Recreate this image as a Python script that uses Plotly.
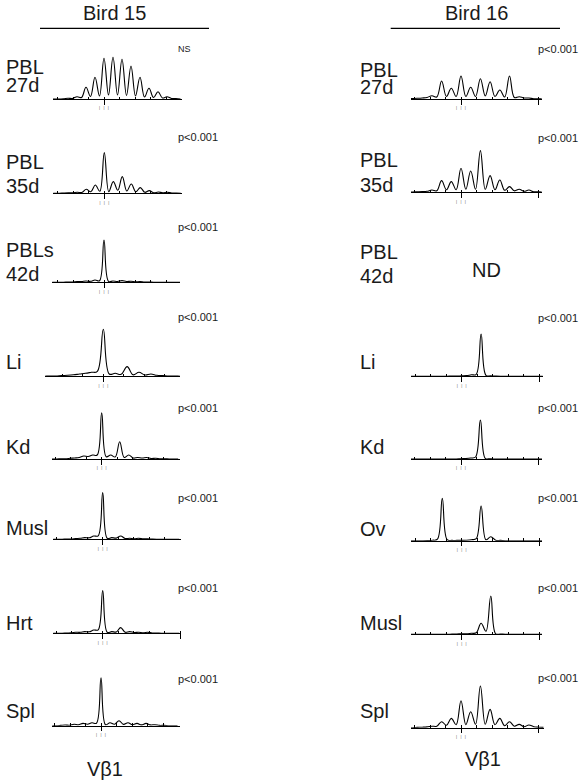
import plotly.graph_objects as go

W, H = 581, 784
FONT = "Liberation Sans, Arial, Helvetica, sans-serif"

# CDR3-length slots (peak positions); valleys sit half a slot to the right of each peak
SLOTS = list(range(-6, 9))

# ---- Bird 15 : peak heights (at SLOTS) and valley heights (at SLOTS + 0.5)
b15_pbl27_pk = [0, 0, 0.8, 2.3, 11.7, 21.7, 40.7, 41.7, 39.7, 33, 21.7, 10.7, 7.3, 2.3, 0.5]
b15_pbl27_vl = [0, 0.3, 0.5, 1.5, 2.5, 3, 4, 4, 3.5, 3, 2, 1.5, 1, 0.5, 0]
b15_pbl35_pk = [0, 0, 0.5, 1, 4, 8.3, 40.7, 11.7, 16.7, 9.3, 5.7, 2.7, 1.3, 1, 0.3]
b15_pbl35_vl = [0, 0.3, 0.5, 0.8, 1.5, 2, 1.7, 3, 2.3, 1.5, 1, 0.5, 0.5, 0.3, 0]
b15_pbl42_pk = [0, 0, 0.3, 0.7, 1.3, 2.3, 42.3, 1.3, 1.7, 1.0, 0.7, 0.3, 0, 0, 0]
b15_pbl42_vl = [0, 0, 0.3, 0.7, 1, 1.5, 1, 0.8, 0.8, 0.5, 0.3, 0, 0, 0, 0]
b15_li_pk = [0, 0, 0.3, 1, 2.3, 4, 47, 3, 9.7, 4, 2.3, 0.7, 0.3, 0, 0]
b15_li_vl = [0, 0.3, 0.7, 1.5, 3, 5, 2.3, 2, 1.5, 1.3, 1, 0.3, 0, 0, 0]
b15_kd_pk = [0, 0, 0.3, 1, 3, 4, 46.3, 4, 17.3, 4, 1.5, 1.5, 0.7, 0.3, 0]
b15_kd_vl = [0, 0.3, 0.7, 1.5, 2.5, 4, 2.3, 2, 1.5, 1, 1, 0.5, 0.3, 0, 0]
b15_musl_pk = [0, 0, 0.3, 0.7, 1.7, 3.3, 46.7, 1.7, 3.3, 1, 1, 0.5, 0, 0, 0]
b15_musl_vl = [0, 0, 0.3, 1, 1.5, 3.5, 1, 1.2, 0.8, 0.6, 0.4, 0.2, 0, 0, 0]
b15_hrt_pk = [0, 0, 0.3, 1, 1.7, 3.3, 42.7, 1.7, 5.7, 1.7, 1, 1, 0.3, 0, 0]
b15_hrt_vl = [0, 0, 0.5, 1, 1.5, 3.5, 1, 1.3, 1, 0.8, 0.5, 0.3, 0, 0, 0]
b15_spl_pk = [0, 0, 0.7, 1.5, 2.3, 3, 48, 3, 5, 3, 2.3, 2.3, 1, 0.3, 0]
b15_spl_vl = [0, 0.3, 0.5, 1, 1.5, 2.5, 1, 1.5, 1.3, 1, 0.8, 0.8, 0.3, 0, 0]

# ---- Bird 16
b16_pbl27_pk = [0, 0.5, 1, 3.3, 18, 10.7, 23, 11.7, 20.3, 17.3, 9, 23, 2.3, 1, 0.3]
b16_pbl27_vl = [0.3, 0.7, 1.5, 2, 2.5, 2.5, 2.5, 2.5, 3, 2.5, 2, 1.5, 1, 0.3, 0]
b16_pbl35_pk = [0, 0.3, 0.7, 2.3, 11.7, 10.7, 24, 21.3, 41.7, 16.7, 12.3, 5.7, 3, 2.3, 0.5]
b16_pbl35_vl = [0, 0.5, 1, 1.5, 2.5, 2.5, 3, 3, 3, 2.5, 2, 1.5, 1, 0.5, 0]
b16_li_pk = [0, 0, 0, 0, 0, 0.3, 0.5, 1.5, 42.3, 0.5, 0, 0, 0, 0, 0]
b16_li_vl = [0, 0, 0, 0, 0, 0.2, 0.7, 2, 1, 0.2, 0, 0, 0, 0, 0]
b16_kd_pk = [0, 0, 0, 0, 0, 0, 0.3, 1, 39, 0.3, 0, 0, 0, 0, 0]
b16_kd_vl = [0, 0, 0, 0, 0, 0, 0.5, 2, 0.7, 0, 0, 0, 0, 0, 0]
b16_ov_pk = [0, 0, 0, 0.5, 42.3, 0.3, 0.3, 1, 34.7, 4, 0.3, 0, 0, 0, 0]
b16_ov_vl = [0, 0, 0.2, 1.5, 1, 0.3, 0.5, 2, 1, 0.5, 0, 0, 0, 0, 0]
b16_musl_pk = [0, 0, 0, 0, 0, 0.2, 0.5, 1, 11, 38.3, 0.3, 0, 0, 0, 0]
b16_musl_vl = [0, 0, 0, 0, 0, 0.3, 0.5, 1.5, 3, 0.5, 0, 0, 0, 0, 0]
b16_spl_pk = [0, 0, 0.5, 1.5, 6, 9.3, 27, 16, 41.7, 18.3, 9.3, 6, 3.3, 2.7, 0.5]
b16_spl_vl = [0, 0.3, 0.8, 1.5, 2.5, 3, 3, 3.5, 3.5, 3, 2, 1.5, 1, 1, 0.3]

# labels
tissue_b15 = [["PBL", "27d"], ["PBL", "35d"], ["PBLs", "42d"], ["Li"], ["Kd"], ["Musl"], ["Hrt"], ["Spl"]]
pval_b15 = ["NS", "p<0.001", "p<0.001", "p<0.001", "p<0.001", "p<0.001", "p<0.001", "p<0.001"]
tissue_b16 = [["PBL", "27d"], ["PBL", "35d"], ["PBL", "42d"], ["Li"], ["Kd"], ["Ov"], ["Musl"], ["Spl"]]
pval_b16 = ["p<0.001"] * 7

# ---------------- layout (pixel geometry) ----------------
STY = {
    "L": dict(slot=9.0, tick=15.5, ks=[-3, -2, -1, 1, 2, 3, 4]),
    "Li": dict(slot=11.9, tick=20.4, ks=[-2, -1, 1, 2, 3]),
    "R": dict(slot=9.7, tick=15.5, ks=[-3, -2, -1, 1, 2, 3, 4]),
}
# (pk, vl, baseline_y, x_left, x_right, x_major, style, end_cross)
panels = [
    (b15_pbl27_pk, b15_pbl27_vl, 99, 53, 182, 104, "L", False),
    (b15_pbl35_pk, b15_pbl35_vl, 193.3, 53.3, 181.7, 104.3, "L", False),
    (b15_pbl42_pk, b15_pbl42_vl, 282.3, 52.3, 180, 104, "L", False),
    (b15_li_pk, b15_li_vl, 376.3, 45, 180, 103.3, "Li", False),
    (b15_kd_pk, b15_kd_vl, 459, 52, 180, 101.7, "L", False),
    (b15_musl_pk, b15_musl_vl, 539.3, 53.3, 181, 102.7, "L", False),
    (b15_hrt_pk, b15_hrt_vl, 633.3, 53.3, 181, 102.7, "L", True),
    (b15_spl_pk, b15_spl_vl, 725.7, 52.3, 180, 101, "L", False),
    (b16_pbl27_pk, b16_pbl27_vl, 99, 411, 541.7, 461, "R", True),
    (b16_pbl35_pk, b16_pbl35_vl, 192.3, 411, 541.7, 461, "R", True),
    (b16_li_pk, b16_li_vl, 376.3, 411, 542.7, 461.7, "R", True),
    (b16_kd_pk, b16_kd_vl, 459, 411, 542, 461, "R", True),
    (b16_ov_pk, b16_ov_vl, 540.7, 411, 542, 461.7, "R", True),
    (b16_musl_pk, b16_musl_vl, 634.3, 411, 542, 461.7, "R", True),
    (b16_spl_pk, b16_spl_vl, 727.7, 411, 544, 461, "R", True),
]
PH = 52  # panel height in px (y units = px)

fig = go.Figure()
lay = {}
for i, (pk, vl, base, xl, xr, xm, st, cross) in enumerate(panels, start=1):
    s = STY[st]
    xs, ys = [], []
    for sl, p, v in zip(SLOTS, pk, vl):
        xs += [sl, sl + 0.5]
        ys += [p, v]
    sfx = "" if i == 1 else str(i)
    fig.add_trace(go.Scatter(x=xs, y=ys, mode="lines",
                             line=dict(color="black", width=1.1, shape="spline", smoothing=1.1),
                             xaxis="x" + sfx, yaxis="y" + sfx, hoverinfo="skip", showlegend=False))
    tstep = s["tick"] / s["slot"]
    major = [0.0]
    ttext = ["|   |   |"]
    minor = [k * tstep for k in s["ks"]] + [0.001]
    if cross:
        major.append(5 * tstep)
        ttext.append("")
        minor.append(5 * tstep + 0.001)
    lay["xaxis" + sfx] = dict(
        domain=[xl / W, xr / W], range=[(xl - xm) / s["slot"], (xr - xm) / s["slot"]],
        anchor="y" + sfx, showline=True, linecolor="black", linewidth=1, showgrid=False, zeroline=False,
        tickmode="array", tickvals=major, ticktext=ttext, ticks="outside", ticklen=4.5, tickwidth=1,
        tickcolor="black", tickfont=dict(size=4, color="#555", family=FONT), tickangle=0,
        minor=dict(tickmode="array", tickvals=minor, ticks="inside", ticklen=2.5, tickwidth=1,
                   tickcolor="black", showgrid=False),
        fixedrange=True,
    )
    lay["yaxis" + sfx] = dict(
        domain=[1 - base / H, 1 - (base - PH) / H], range=[0, PH], anchor="x" + sfx,
        showline=False, showgrid=False, zeroline=False, showticklabels=False, ticks="", fixedrange=True,
    )

ann = []


def txt(x, y, t, size, xanchor="left"):
    ann.append(dict(x=x / W, y=1 - y / H, xref="paper", yref="paper", text=t, showarrow=False,
                    xanchor=xanchor, yanchor="middle", font=dict(size=size, color="#1a1a1a", family=FONT)))


# headers and footers
txt(115, 12.7, "Bird 15", 20, "center")
txt(476, 12.7, "Bird 16", 20, "center")
txt(104.5, 769.3, "V\u03b21", 20, "center")
txt(483.3, 759.3, "V\u03b21", 20, "center")
txt(486, 270, "ND", 20, "center")

# tissue labels
lab_y_b15 = [[67, 85], [162.2, 185.6], [250.5, 274.2], [362.2], [447], [528], [622.5], [710.7]]
for lines, ys_ in zip(tissue_b15, lab_y_b15):
    for t, yy in zip(lines, ys_):
        txt(4, yy, t, 20)
lab_y_b16 = [[69.7, 87.2], [160.3, 184.5], [252, 275.8], [362.2], [447.2], [528.7], [623.3], [711.3]]
for lines, ys_ in zip(tissue_b16, lab_y_b16):
    for t, yy in zip(lines, ys_):
        txt(358, yy, t, 20)

# p-values
pv_y_b15 = [49, 137, 227, 317, 408, 497.7, 588, 678.7]
for t, yy in zip(pval_b15, pv_y_b15):
    txt(175.5, yy, t, 9 if t == "NS" else 11)
pv_y_b16 = [49.2, 137.7, 317.7, 407.7, 498.3, 588, 678]
for t, yy in zip(pval_b16, pv_y_b16):
    txt(535.5, yy, t, 11)

shapes = [
    dict(type="line", xref="paper", yref="paper", x0=40 / W, x1=209 / W, y0=1 - 28.3 / H, y1=1 - 28.3 / H,
         line=dict(color="black", width=1.3)),
    dict(type="line", xref="paper", yref="paper", x0=390.7 / W, x1=560 / W, y0=1 - 28.3 / H, y1=1 - 28.3 / H,
         line=dict(color="black", width=1.3)),
]

fig.update_layout(width=W, height=H, margin=dict(l=0, r=0, t=0, b=0), paper_bgcolor="white",
                  plot_bgcolor="rgba(0,0,0,0)", annotations=ann, shapes=shapes, showlegend=False,
                  font=dict(family=FONT), **lay)
fig.write_html("out.html", config={"displayModeBar": False},
               post_script="document.body.style.margin='0px';")
